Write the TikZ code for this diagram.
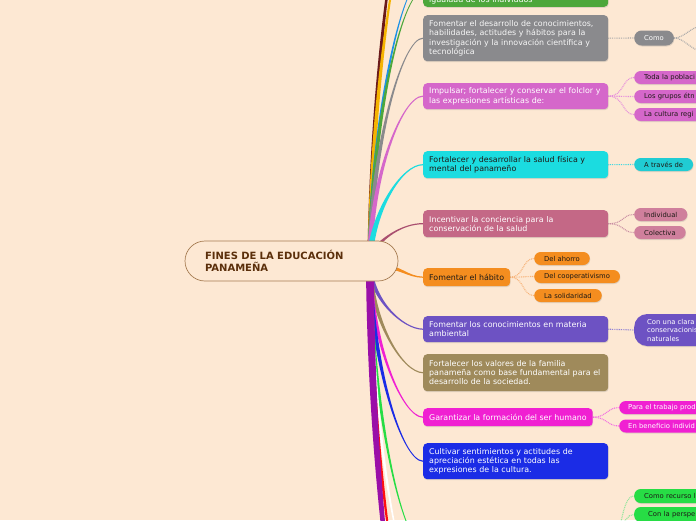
\documentclass[tikz,border=0pt]{standalone}
\usepackage{fontspec}
\setmainfont{DejaVu Sans}
\usetikzlibrary{calc,shadows}
\definecolor{bg}{HTML}{FDE8D3}
\definecolor{cMaroon}{HTML}{6B1A1A}
\definecolor{cYellow}{HTML}{F5B400}
\definecolor{cBlueL}{HTML}{1E92E6}
\definecolor{cGreen}{HTML}{4DA73B}
\definecolor{cGray}{HTML}{8A8A8D}
\definecolor{cGrayL}{HTML}{A9A9A9}
\definecolor{cMag}{HTML}{D567CA}
\definecolor{cMagL}{HTML}{E58BDC}
\definecolor{cCyan}{HTML}{1BDCE0}
\definecolor{cCyan2}{HTML}{20CCD3}
\definecolor{cCyanL}{HTML}{3ED8E0}
\definecolor{cMauve}{HTML}{C46886}
\definecolor{cMauveLine}{HTML}{A94F6F}
\definecolor{cMauve2}{HTML}{CF7F9C}
\definecolor{cMauveL}{HTML}{C88CA2}
\definecolor{cOrange}{HTML}{F48D1F}
\definecolor{cOrangeL}{HTML}{F7B277}
\definecolor{cPurple}{HTML}{6D52C3}
\definecolor{cPurpleL}{HTML}{9182D3}
\definecolor{cKhaki}{HTML}{9F8A5B}
\definecolor{cPink}{HTML}{F020D2}
\definecolor{cPinkL}{HTML}{F26DE2}
\definecolor{cBlue}{HTML}{1B2CE6}
\definecolor{cLime}{HTML}{27DD45}
\definecolor{cLimeL}{HTML}{8EE69A}
\definecolor{cPurpB}{HTML}{9A0FA8}
\definecolor{cRed}{HTML}{FF1010}
\definecolor{rootborder}{HTML}{A67C52}
\definecolor{roottext}{HTML}{5B2F0B}
\definecolor{darktext}{HTML}{1E1A16}
\pgfdeclarelayer{lines}
\pgfsetlayers{lines,main}
% tapered branch: color, start, c1, c2, end, halfwidth, left end dy, right end dy
\newcommand\brch[8]{%
  \fill[#1] ($(#2)+(-#6,0)$) .. controls ($(#3)+(-0.8*#6,0)$) and ($(#4)+(0,#7)$) .. ($(#5)+(0,#7)$)
    -- ($(#5)+(0,#8)$) .. controls ($(#4)+(0,#8)$) and ($(#3)+(0.8*#6,0)$) .. ($(#2)+(#6,0)$) -- cycle;}
\tikzset{
  mbox/.style={rectangle, rounded corners=4pt, inner xsep=6pt, inner ysep=3pt, anchor=north west,
    font=\fontsize{7.9}{9.3}\selectfont,
    drop shadow={shadow xshift=0.5pt, shadow yshift=-1pt, opacity=0.22}},
  wbox/.style={mbox, text width=173pt, align=left},
  sbox/.style={rectangle, rounded corners=6.5pt, minimum height=13pt, inner xsep=10pt, inner ysep=0pt,
    anchor=west, font=\fontsize{6.8}{8.5}\selectfont,
    drop shadow={shadow xshift=0.5pt, shadow yshift=-1pt, opacity=0.22}},
  dotl/.style={line width=1.1pt, dash pattern=on 0.9pt off 0.9pt},
  rootbox/.style={rectangle, rounded corners=20pt, minimum width=213pt, minimum height=40pt,
    inner xsep=20pt, text width=173pt, align=left, fill=bg, draw=rootborder, line width=0.7pt,
    text=roottext, font=\bfseries\fontsize{10}{11.5}\selectfont}
}
\begin{document}
\begin{tikzpicture}[x=1pt,y=-1pt]
\useasboundingbox (0,0) rectangle (696,520);
\clip (0,0) rectangle (696,520);

% off-canvas ends
\coordinate (rt) at (370,255);
\coordinate (rb) at (370,268);
\coordinate (ro) at (385,267);
\coordinate (eMaroon) at (423,-150);
\coordinate (eYellow) at (423,-110);
\coordinate (eBlue) at (423,-22);
\coordinate (limeL) at (423,545);
\coordinate (limeR) at (610,545);
\coordinate (eWhite) at (423,600);
\coordinate (eRed) at (423,660);
\coordinate (ePurp) at (423,720);
\coordinate (cc1) at (702,26);
\coordinate (cc2) at (702,51);

% root
\node[rootbox] (root) at (291.5,261) {FINES DE LA EDUCACIÓN\\PANAMEÑA};

% main topics
\node[wbox, fill=cGreen, text=white, anchor=south west] (green) at (423,7)
  {\phantom{I}\\\phantom{I}\\igualdad de los individuos};
\node[wbox, fill=cGray, text=white!94!gray, minimum height=46pt] (gray) at (423,15)
  {Fomentar el desarrollo de conocimientos,\\habilidades, actitudes y hábitos para la\\investigación y la innovación científica y\\tecnológica};
\node[wbox, fill=cMag, text=white, minimum height=26pt] (mag) at (423,83)
  {Impulsar; fortalecer y conservar el folclor y\\las expresiones artísticas de:};
\node[wbox, fill=cCyan, text=darktext, minimum height=27pt] (cyan) at (423,151)
  {Fortalecer y desarrollar la salud física y\\mental del panameño};
\node[wbox, fill=cMauve, text=white, minimum height=27pt] (mauve) at (423,210)
  {Incentivar la conciencia para la\\conservación de la salud};
\node[mbox, fill=cOrange, text=darktext, minimum height=18pt] (orange) at (423,268)
  {Fomentar el hábito};
\node[wbox, fill=cPurple, text=white, minimum height=26pt] (purple) at (423,316)
  {Fomentar los conocimientos en materia\\ambiental};
\node[wbox, fill=cKhaki, text=white, minimum height=37pt] (khaki) at (423,354)
  {Fortalecer los valores de la familia\\panameña como base fundamental para el\\desarrollo de la sociedad.};
\node[mbox, fill=cPink, text=white, minimum height=18pt] (pink) at (423,408)
  {Garantizar la formación del ser humano};
\node[wbox, fill=cBlue, text=white, minimum height=36pt] (blue) at (423,443)
  {Cultivar sentimientos y actitudes de\\apreciación estética en todas las\\expresiones de la cultura.};

% sub topics
\node[sbox, fill=cGray, text=white, minimum height=15pt, rounded corners=7.5pt] (como) at (634,38) {Como};
\node[sbox, fill=cMag, text=darktext, text width=70pt, align=left] (toda) at (634,77.5) {Toda la poblaci};
\node[sbox, fill=cMag, text=darktext, text width=70pt, align=left] (grupos) at (634,96.5) {Los grupos étn};
\node[sbox, fill=cMag, text=darktext, text width=70pt, align=left] (cultura) at (634,114.5) {La cultura regi};
\node[sbox, fill=cCyan2, text=darktext] (atraves) at (634,164.5) {A través de};
\node[sbox, fill=cMauve2, text=darktext] (indiv) at (634,214.5) {Individual};
\node[sbox, fill=cMauve2, text=darktext] (colect) at (634,232.5) {Colectiva};
\node[sbox, fill=cOrange, text=darktext] (ahorro) at (534,258.5) {Del ahorro};
\node[sbox, fill=cOrange, text=darktext] (coop) at (534,276.5) {Del cooperativismo};
\node[sbox, fill=cOrange, text=darktext] (solid) at (534,295.5) {La solidaridad};
\node[sbox, fill=cPurple, text=white, rounded corners=13pt, minimum height=32pt, text width=70pt,
  align=left, inner xsep=13pt] (clara) at (634,330) {Con una clara\\conservacionis\\naturales};
\node[sbox, fill=cPink, text=white, text width=75pt, align=left, inner xsep=9pt] (trabajo) at (619,407.5) {Para el trabajo prod};
\node[sbox, fill=cPink, text=white, text width=75pt, align=left, inner xsep=9pt] (benef) at (619,426) {En beneficio individ};
\node[sbox, fill=cLime, text=darktext, text width=70pt, align=left, minimum height=14pt] (recurso) at (634,496) {Como recurso l};
\node[sbox, fill=cLime, text=darktext, text width=70pt, align=left, inner xsep=14pt, minimum height=15pt] (perspe) at (634,514.5) {Con la perspe};

\begin{pgfonlayer}{lines}
\begin{scope}
\fill[bg] (0,0) rectangle (696,520);
\clip (0,0) rectangle (696,520);
% branches upward
\brch{cMaroon}{rt}{372,52.5}{402,-150}{eMaroon}{2.5}{-0.6}{0.6}
\brch{cYellow}{rt}{372,72.5}{402,-110}{eYellow}{2.4}{-0.6}{0.6}
\brch{cBlueL}{rt}{372,116.5}{402,-22}{eBlue}{2.2}{-0.6}{0.6}
\brch{cGreen}{rt}{372,122.9}{402,-9.3}{green.west}{2.3}{-0.6}{0.6}
\brch{cGray}{rt}{372,146.5}{402,38}{gray.west}{2.5}{-0.6}{0.6}
\brch{cMag}{rt}{372,175.5}{402,96}{mag.west}{2.6}{-0.6}{0.6}
\brch{cCyan}{rt}{374,209.7}{402,164.5}{cyan.west}{3}{-0.6}{0.6}
\brch{cMauveLine}{rt}{380,239}{402,223.5}{mauve.west}{2.6}{-0.6}{0.6}
\fill[cOrange] ($(ro)+(0,-2)$) .. controls (400,265) and (408,276.4) .. ($(orange.west)+(0,-0.6)$)
  -- ($(orange.west)+(0,0.6)$) .. controls (408,277.6) and (400,269) .. ($(ro)+(0,2)$) -- cycle;
% branches downward
\brch{cPurple}{rb}{372,298.5}{402,329}{purple.west}{2.5}{0.6}{-0.6}
\brch{cKhaki}{rb}{372,320}{402,372.5}{khaki.west}{2.5}{0.6}{-0.6}
\brch{cPink}{rb}{372,342.5}{402,417}{pink.west}{2.3}{0.6}{-0.6}
\brch{cBlue}{rb}{372,364.5}{402,461}{blue.west}{2.5}{0.6}{-0.6}
\brch{cLime}{rb}{372,406.5}{402,545}{limeL}{2.2}{0.6}{-0.6}
\brch{white}{rb}{372,434}{402,600}{eWhite}{2.2}{0.6}{-0.6}
\brch{cRed}{rb}{372,464}{402,660}{eRed}{2.2}{0.6}{-0.6}
\brch{cPurpB}{rb}{371,494}{402,720}{ePurp}{4}{0.6}{-0.6}
% dotted sub connectors
\draw[dotl, cGrayL] (gray.east) -- (como.west);
\draw[dotl, cGrayL] (como.east) .. controls +(10,0) and +(-10,0) .. (cc1);
\draw[dotl, cGrayL] (como.east) .. controls +(10,0) and +(-10,0) .. (cc2);
\foreach \n in {toda,grupos,cultura}
  \draw[dotl, cMagL] (mag.east) .. controls +(16,0) and +(-12,0) .. (\n.west);
\draw[dotl, cCyanL] (cyan.east) -- (atraves.west);
\foreach \n in {indiv,colect}
  \draw[dotl, cMauveL] (mauve.east) .. controls +(16,0) and +(-12,0) .. (\n.west);
\foreach \n in {ahorro,coop,solid}
  \draw[dotl, cOrangeL] (orange.east) .. controls +(14,0) and +(-12,0) .. (\n.west);
\draw[dotl, cPurpleL] (purple.east) -- (clara.west);
\foreach \n in {trabajo,benef}
  \draw[dotl, cPinkL] (pink.east) .. controls +(14,0) and +(-12,0) .. (\n.west);
\foreach \n in {recurso,perspe}
  \draw[dotl, cLimeL] (limeR) .. controls +(12,0) and +(-14,0) .. (\n.west);
\end{scope}
\end{pgfonlayer}
\end{tikzpicture}
\end{document}
